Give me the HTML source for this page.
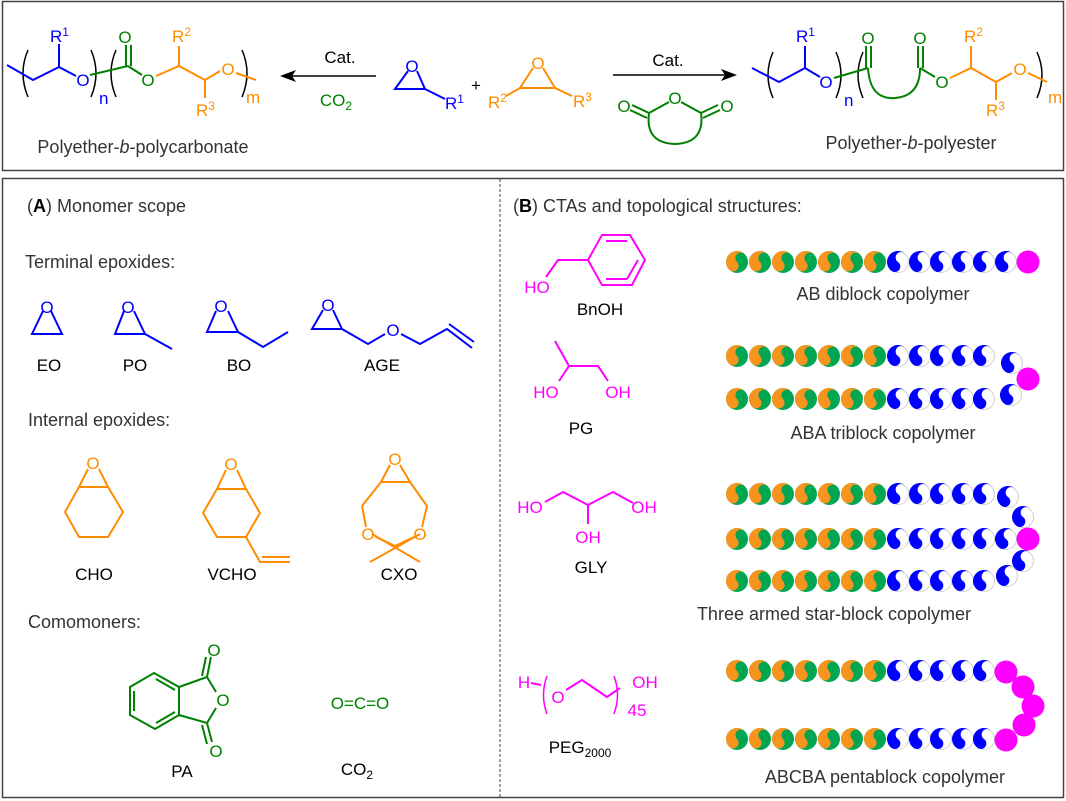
<!DOCTYPE html>
<html><head><meta charset="utf-8"><style>
html,body{margin:0;padding:0;background:#fff;}
svg{display:block;font-family:"Liberation Sans",Arial,sans-serif;}
</style></head><body>
<svg width="1066" height="801" viewBox="0 0 1066 801" xmlns="http://www.w3.org/2000/svg">
<defs>
<g id="og"><circle r="11" fill="#00a651"/><path d="M7.78,-7.78 A11,11 0 0 0 -7.78,7.78 A5.5,5.5 0 0 0 0,0 A5.5,5.5 0 0 1 7.78,-7.78Z" fill="#f7941d"/></g>
<g id="bw"><circle r="10.5" fill="#fff" stroke="#cfcfcf" stroke-width="1"/><path d="M0,-11 A11,11 0 0 0 0,11 A5.5,5.5 0 0 0 0,0 A5.5,5.5 0 0 1 0,-11Z" fill="#0000ff" transform="rotate(35)"/></g>
<circle id="mg" r="11.5" fill="#ff00ff"/>
</defs>
<rect x="2.5" y="1.5" width="1061" height="169" fill="none" stroke="#444" stroke-width="1.5"/>
<rect x="2.5" y="178.5" width="1061" height="619" fill="none" stroke="#444" stroke-width="1.5"/>
<line x1="500" y1="179" x2="500" y2="797" stroke="#444" stroke-width="1" stroke-dasharray="3,2"/>

<!-- parentheses -->
<g fill="none" stroke="#000" stroke-width="1.5">
<path d="M28,50 Q18,73 28,97"/><path d="M91,50 Q101,73 91,97"/><path d="M116,50 Q106,73 116,97"/><path d="M242,50 Q252,73 242,97"/>
<path d="M773,52 Q763,75 773,98"/><path d="M836,52 Q846,75 836,98"/><path d="M863,52 Q853,75 863,98"/><path d="M1037,52 Q1047,75 1037,98"/>
</g>
<g fill="none" stroke="#ff00ff" stroke-width="1.5"><path d="M547,676 Q540,695 547,714"/><path d="M614,676 Q621,695 614,714"/></g>

<!-- top left polymer -->
<g fill="none" stroke-width="2">
<g stroke="#0000ff"><polyline points="7,65 33,80 59,67 76,76"/><line x1="59" y1="67" x2="59" y2="44"/></g>
<g stroke="#008000"><line x1="90" y1="75" x2="128" y2="66"/><line x1="126" y1="66" x2="126" y2="45"/><line x1="131" y1="66" x2="131" y2="45"/><line x1="128" y1="66" x2="142" y2="75"/></g>
<g stroke="#ff8c00"><polyline points="156,76 179,66 205,80 220,71"/><line x1="179" y1="66" x2="179" y2="46"/><line x1="205" y1="80" x2="205" y2="98"/><line x1="236" y1="73" x2="256" y2="80"/></g>
</g>
<g font-size="17"><text x="83" y="86" fill="#0000ff" text-anchor="middle">O</text>
<text x="50" y="42" fill="#0000ff">R<tspan font-size="12" dy="-6">1</tspan></text>
<text x="99" y="104" fill="#0000ff">n</text>
<text x="125" y="43" fill="#008000" text-anchor="middle">O</text>
<text x="148" y="86" fill="#008000" text-anchor="middle">O</text>
<text x="172" y="42" fill="#ff8c00">R<tspan font-size="12" dy="-6">2</tspan></text>
<text x="196" y="116" fill="#ff8c00">R<tspan font-size="12" dy="-6">3</tspan></text>
<text x="228" y="75" fill="#ff8c00" text-anchor="middle">O</text>
<text x="246" y="103" fill="#ff8c00">m</text></g>
<!-- arrow left -->
<line x1="376" y1="76" x2="292" y2="76" stroke="#000" stroke-width="1.5"/><polygon points="280,76 296,70 292,76 296,82" fill="#000"/>
<text x="340" y="63" font-size="17" text-anchor="middle">Cat.</text>
<text x="336" y="106" font-size="17" fill="#008000" text-anchor="middle">CO<tspan font-size="12" dy="4">2</tspan></text>
<!-- epoxide 1 -->
<g stroke="#0000ff" stroke-width="2" fill="none"><polyline points="408,71 395,89 425,89 417,71"/><line x1="425" y1="89" x2="445" y2="99"/></g>
<text x="412" y="72" font-size="17" fill="#0000ff" text-anchor="middle">O</text>
<text x="445" y="109" font-size="17" fill="#0000ff">R<tspan font-size="12" dy="-6">1</tspan></text>
<text x="476" y="91" font-size="17" text-anchor="middle">+</text>
<g stroke="#ff8c00" stroke-width="2" fill="none"><polyline points="533,68 520,88 555,88 543,68"/><line x1="520" y1="88" x2="506" y2="96"/><line x1="555" y1="88" x2="572" y2="96"/></g>
<text x="538" y="69" font-size="17" fill="#ff8c00" text-anchor="middle">O</text>
<text x="488" y="108" font-size="17" fill="#ff8c00">R<tspan font-size="12" dy="-6">2</tspan></text>
<text x="573" y="107" font-size="17" fill="#ff8c00">R<tspan font-size="12" dy="-6">3</tspan></text>
<!-- arrow right -->
<line x1="613" y1="75" x2="725" y2="75" stroke="#000" stroke-width="1.5"/><polygon points="737,75 721,69 725,75 721,81" fill="#000"/>
<text x="668" y="66" font-size="17" text-anchor="middle">Cat.</text>
<g stroke="#008000" stroke-width="2" fill="none"><line x1="632" y1="105" x2="649" y2="113"/><line x1="630" y1="110" x2="647" y2="118"/><line x1="649" y1="113" x2="669" y2="102"/><line x1="681" y1="102" x2="701" y2="113"/><line x1="701" y1="113" x2="718" y2="105"/><line x1="703" y1="118" x2="720" y2="110"/><path d="M649,113 Q645,143 675,144 Q705,143 701,113"/></g>
<g font-size="17" fill="#008000" text-anchor="middle"><text x="624" y="112">O</text><text x="675" y="104">O</text><text x="727" y="112">O</text></g>
<!-- right polymer -->
<g fill="none" stroke-width="2">
<g stroke="#0000ff"><polyline points="752,68 779,82 805,68 820,77"/><line x1="805" y1="68" x2="805" y2="46"/></g>
<g stroke="#008000"><line x1="834" y1="78" x2="868" y2="68"/><line x1="866" y1="68" x2="866" y2="46"/><line x1="871" y1="68" x2="871" y2="46"/><path d="M868,68 Q870,100 895,98 Q920,96 920,68"/><line x1="918" y1="68" x2="918" y2="46"/><line x1="923" y1="68" x2="923" y2="46"/><line x1="920" y1="68" x2="935" y2="77"/></g>
<g stroke="#ff8c00"><polyline points="950,78 971,68 996,82 1012,73"/><line x1="971" y1="68" x2="971" y2="46"/><line x1="996" y1="82" x2="996" y2="100"/><line x1="1028" y1="73" x2="1047" y2="82"/></g>
</g>
<g font-size="17"><text x="826" y="88" fill="#0000ff" text-anchor="middle">O</text>
<text x="796" y="42" fill="#0000ff">R<tspan font-size="12" dy="-6">1</tspan></text>
<text x="844" y="106" fill="#0000ff">n</text>
<text x="868" y="44" fill="#008000" text-anchor="middle">O</text>
<text x="920" y="44" fill="#008000" text-anchor="middle">O</text>
<text x="942" y="88" fill="#008000" text-anchor="middle">O</text>
<text x="964" y="42" fill="#ff8c00">R<tspan font-size="12" dy="-6">2</tspan></text>
<text x="986" y="116" fill="#ff8c00">R<tspan font-size="12" dy="-6">3</tspan></text>
<text x="1020" y="75" fill="#ff8c00" text-anchor="middle">O</text>
<text x="1048" y="103" fill="#ff8c00">m</text></g>
<text x="143" y="153" font-size="18" fill="#333" text-anchor="middle">Polyether-<tspan font-style="italic">b</tspan>-polycarbonate</text>
<text x="911" y="149" font-size="18" fill="#333" text-anchor="middle">Polyether-<tspan font-style="italic">b</tspan>-polyester</text>

<!-- Panel A -->
<text x="27" y="212" font-size="18" fill="#333">(<tspan font-weight="bold" fill="#000">A</tspan>)  Monomer scope</text>
<text x="25" y="268" font-size="18" fill="#333">Terminal epoxides:</text>
<g stroke="#0000ff" stroke-width="2" fill="none">
<polyline points="43,311 32,334 62,334 51,311"/>
<polyline points="124,311 115,334 145,334 134,311"/><line x1="145" y1="334" x2="172" y2="349"/>
<polyline points="216,311 207,332 238,332 228,311"/><polyline points="238,332 263,347 288,332"/>
<polyline points="323,310 312,329 342,329 333,310"/><polyline points="342,329 368,344 385,334"/><polyline points="401,334 420,344 447,329 472,348"/><line x1="449" y1="324" x2="474" y2="342"/>
</g>
<g font-size="17" fill="#0000ff" text-anchor="middle"><text x="47" y="313">O</text><text x="128" y="313">O</text><text x="221" y="312">O</text><text x="328" y="311">O</text><text x="393" y="336">O</text></g>
<g font-size="17" fill="#000" text-anchor="middle"><text x="49" y="371">EO</text><text x="135" y="371">PO</text><text x="239" y="371">BO</text><text x="382" y="371">AGE</text></g>
<text x="28" y="426" font-size="18" fill="#333">Internal epoxides:</text>
<g stroke="#ff8c00" stroke-width="2" fill="none">
<polyline points="88,469 79,487 108,487 99,469"/><polygon points="79,487 108,487 123,512 108,537 79,537 65,512"/>
<polyline points="226,470 217,489 246,489 237,470"/><polygon points="217,489 246,489 260,513 246,537 217,537 203,513"/><polyline points="246,537 260,562 290,562"/><line x1="262" y1="557" x2="290" y2="557"/>
<polyline points="390,465 381,482 410,482 400,465"/><line x1="381" y1="482" x2="362" y2="506"/><line x1="410" y1="482" x2="427" y2="506"/><line x1="362" y1="506" x2="366" y2="527"/><line x1="427" y1="506" x2="422" y2="527"/><polyline points="376,537 395,546 414,537"/><line x1="370" y1="562" x2="420" y2="534"/><line x1="420" y1="562" x2="372" y2="534"/>
</g>
<g font-size="17" fill="#ff8c00" text-anchor="middle"><text x="93" y="469">O</text><text x="231" y="470">O</text><text x="395" y="465">O</text><text x="368" y="540">O</text><text x="420" y="540">O</text></g>
<g font-size="17" fill="#000" text-anchor="middle"><text x="94" y="580">CHO</text><text x="232" y="580">VCHO</text><text x="399" y="580">CXO</text></g>
<text x="28" y="628" font-size="18" fill="#333">Comomoners:</text>
<g stroke="#008000" stroke-width="2" fill="none">
<polygon points="154,673 179,687 179,715 155,729 130,715 130,687"/>
<line x1="134" y1="691" x2="134" y2="711"/><line x1="156" y1="679" x2="175" y2="690"/><line x1="156" y1="723" x2="175" y2="712"/>
<polyline points="179,687 207,677 216,692"/><polyline points="216,708 207,723 179,715"/>
<line x1="207" y1="677" x2="211" y2="657"/><line x1="202" y1="676" x2="206" y2="657"/>
<line x1="207" y1="723" x2="212" y2="742"/><line x1="202" y1="725" x2="207" y2="744"/>
</g>
<g font-size="17" fill="#008000" text-anchor="middle"><text x="214" y="656">O</text><text x="223" y="706">O</text><text x="216" y="757">O</text><text x="360" y="709">O=C=O</text></g>
<g font-size="17" fill="#000" text-anchor="middle"><text x="182" y="777">PA</text><text x="357" y="775">CO<tspan font-size="12" dy="4">2</tspan></text></g>

<!-- Panel B -->
<text x="513" y="212" font-size="18" fill="#333">(<tspan font-weight="bold" fill="#000">B</tspan>)  CTAs and topological structures:</text>
<g stroke="#ff00ff" stroke-width="2" fill="none">
<polygon points="602,235 630,235 645,260 632,285 602,285 588,260"/>
<line x1="606" y1="241" x2="627" y2="241"/><line x1="638" y1="260" x2="627" y2="279"/><line x1="606" y1="279" x2="627" y2="279"/>
<polyline points="588,260 558,260 546,277"/>
<polyline points="555,341 569,366 598,366 608,381"/><line x1="569" y1="366" x2="559" y2="381"/>
<polyline points="545,502 563,492 588,505 613,492 633,503"/><line x1="588" y1="505" x2="588" y2="524"/>
<polyline points="566,690 582,680 607,697 620,688"/><line x1="531" y1="683" x2="541" y2="685"/>
</g>
<g font-size="17" fill="#ff00ff" text-anchor="middle">
<text x="537" y="293">HO</text><text x="546" y="398">HO</text><text x="618" y="398">OH</text>
<text x="530" y="513">HO</text><text x="644" y="513">OH</text><text x="588" y="543">OH</text>
<text x="524" y="688">H</text><text x="558" y="703">O</text><text x="645" y="688">OH</text><text x="637" y="716">45</text>
</g>
<g font-size="17" fill="#000" text-anchor="middle"><text x="600" y="315">BnOH</text><text x="581" y="434">PG</text><text x="591" y="573">GLY</text><text x="580" y="753">PEG<tspan font-size="12" dy="4">2000</tspan></text></g>

<!-- bead rows -->
<g>
<use href="#og" x="737" y="262"/><use href="#og" x="760" y="262"/><use href="#og" x="783" y="262"/><use href="#og" x="806" y="262"/><use href="#og" x="829" y="262"/><use href="#og" x="852" y="262"/><use href="#og" x="875" y="262"/>
<use href="#bw" x="898" y="262"/><use href="#bw" x="920" y="262"/><use href="#bw" x="941" y="262"/><use href="#bw" x="963" y="262"/><use href="#bw" x="984" y="262"/><use href="#bw" x="1006" y="262"/><use href="#mg" x="1028" y="262"/>
</g>
<g>
<use href="#og" x="737" y="356"/><use href="#og" x="760" y="356"/><use href="#og" x="783" y="356"/><use href="#og" x="806" y="356"/><use href="#og" x="829" y="356"/><use href="#og" x="852" y="356"/><use href="#og" x="875" y="356"/>
<use href="#bw" x="898" y="356"/><use href="#bw" x="920" y="356"/><use href="#bw" x="941" y="356"/><use href="#bw" x="963" y="356"/><use href="#bw" x="984" y="356"/><use href="#bw" x="1012" y="363"/>
<use href="#og" x="737" y="399"/><use href="#og" x="760" y="399"/><use href="#og" x="783" y="399"/><use href="#og" x="806" y="399"/><use href="#og" x="829" y="399"/><use href="#og" x="852" y="399"/><use href="#og" x="875" y="399"/>
<use href="#bw" x="898" y="399"/><use href="#bw" x="920" y="399"/><use href="#bw" x="941" y="399"/><use href="#bw" x="963" y="399"/><use href="#bw" x="984" y="399"/><use href="#bw" x="1011" y="395"/>
<use href="#mg" x="1028" y="379"/>
</g>
<g>
<use href="#og" x="737" y="494"/><use href="#og" x="760" y="494"/><use href="#og" x="783" y="494"/><use href="#og" x="806" y="494"/><use href="#og" x="829" y="494"/><use href="#og" x="852" y="494"/><use href="#og" x="875" y="494"/>
<use href="#bw" x="898" y="494"/><use href="#bw" x="920" y="494"/><use href="#bw" x="941" y="494"/><use href="#bw" x="963" y="494"/><use href="#bw" x="984" y="494"/><use href="#bw" x="1008" y="497"/><use href="#bw" x="1023" y="517"/>
<use href="#og" x="737" y="539"/><use href="#og" x="760" y="539"/><use href="#og" x="783" y="539"/><use href="#og" x="806" y="539"/><use href="#og" x="829" y="539"/><use href="#og" x="852" y="539"/><use href="#og" x="875" y="539"/>
<use href="#bw" x="898" y="539"/><use href="#bw" x="920" y="539"/><use href="#bw" x="941" y="539"/><use href="#bw" x="963" y="539"/><use href="#bw" x="984" y="539"/><use href="#bw" x="1006" y="539"/><use href="#mg" x="1028" y="539"/>
<use href="#og" x="737" y="581"/><use href="#og" x="760" y="581"/><use href="#og" x="783" y="581"/><use href="#og" x="806" y="581"/><use href="#og" x="829" y="581"/><use href="#og" x="852" y="581"/><use href="#og" x="875" y="581"/>
<use href="#bw" x="898" y="581"/><use href="#bw" x="920" y="581"/><use href="#bw" x="941" y="581"/><use href="#bw" x="963" y="581"/><use href="#bw" x="984" y="581"/><use href="#bw" x="1007" y="576"/><use href="#bw" x="1023" y="561"/>
</g>
<g>
<use href="#og" x="737" y="671"/><use href="#og" x="760" y="671"/><use href="#og" x="783" y="671"/><use href="#og" x="806" y="671"/><use href="#og" x="829" y="671"/><use href="#og" x="852" y="671"/><use href="#og" x="875" y="671"/>
<use href="#bw" x="898" y="671"/><use href="#bw" x="920" y="671"/><use href="#bw" x="941" y="671"/><use href="#bw" x="963" y="671"/><use href="#bw" x="984" y="671"/>
<use href="#og" x="737" y="739"/><use href="#og" x="760" y="739"/><use href="#og" x="783" y="739"/><use href="#og" x="806" y="739"/><use href="#og" x="829" y="739"/><use href="#og" x="852" y="739"/><use href="#og" x="875" y="739"/>
<use href="#bw" x="898" y="739"/><use href="#bw" x="920" y="739"/><use href="#bw" x="941" y="739"/><use href="#bw" x="963" y="739"/><use href="#bw" x="984" y="739"/>
<use href="#mg" x="1006" y="672"/><use href="#mg" x="1023" y="687"/><use href="#mg" x="1033" y="706"/><use href="#mg" x="1024" y="725"/><use href="#mg" x="1006" y="740"/>
</g>
<g font-size="18" fill="#333" text-anchor="middle">
<text x="883" y="300">AB diblock copolymer</text>
<text x="883" y="439">ABA triblock copolymer</text>
<text x="834" y="620">Three armed star-block copolymer</text>
<text x="885" y="783">ABCBA pentablock copolymer</text>
</g>
</svg>
</body></html>
